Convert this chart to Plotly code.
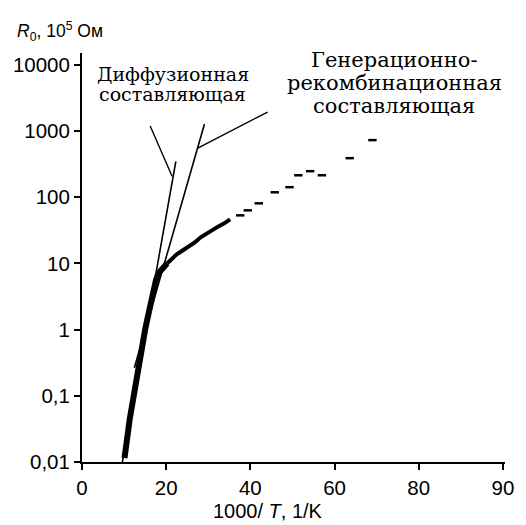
import plotly.graph_objects as go

# ---- data ----
# dense measured band (low temperature side)
band_x = [10.1, 10.3, 10.6, 11.0, 11.3, 11.7, 12.0, 12.4, 12.7, 13.1, 13.6, 14.1,
          14.6, 15.0, 15.5, 16.0, 16.4, 16.9, 17.6, 18.3, 19.2, 20.2]
band_y = [0.0115, 0.016, 0.0216, 0.0305, 0.043, 0.061, 0.087, 0.123, 0.175, 0.248,
          0.35, 0.50, 0.70, 1.0, 1.42, 2.0, 2.85, 4.0, 5.7, 7.3, 8.7, 10.0]
# knee section
knee_x = [20.2, 21.4, 22.5, 23.9, 25.4, 26.8, 28.2, 29.6, 31.0, 32.4, 33.8, 35.2]
knee_y = [10.0, 11.9, 13.7, 15.7, 18.1, 20.8, 24.8, 28.5, 32.7, 36.3, 40.4, 46.4]
# sparse points
sparse_x = [37.6, 39.4, 42.0, 45.8, 49.3, 51.4, 54.2, 57.0, 63.6, 69.0]
sparse_y = [53.3, 63.5, 81, 119, 142, 215, 248, 215, 390, 731]

# fitted components
diff_x = [9.6, 22.3]
diff_y = [0.01, 350]
gr_x = [12.44, 29.1]
gr_y = [0.265, 1276]

# leader lines to the labels
lead1_x = [16.2, 21.4]
lead1_y = [1191, 208]
lead2_x = [27.5, 44.1]
lead2_y = [552, 1941]

x_tickvals = [0, 20, 40, 60, 80, 100]
x_ticktext = ["0", "20", "40", "60", "80", "90"]
y_tickvals = [0.01, 0.1, 1, 10, 100, 1000, 10000]
y_ticktext = ["0,01", "0,1", "1", "10", "100", "1000", "10000"]

label_diff_lines = ["Диффузионная", "составляющая"]
label_gr_lines = ["Генерационно-", "рекомбинационная", "составляющая"]
y_title = "<i>R</i><sub>0</sub>, 10<sup>5</sup> Ом"
x_title = "1000/ <i>T</i>, 1/K"

BLACK = "#000000"
fig = go.Figure()

fig.add_trace(go.Scatter(x=diff_x, y=diff_y, mode="lines",
                         line=dict(color=BLACK, width=1.6), showlegend=False))
fig.add_trace(go.Scatter(x=gr_x, y=gr_y, mode="lines",
                         line=dict(color=BLACK, width=1.6), showlegend=False))
fig.add_trace(go.Scatter(x=lead1_x, y=lead1_y, mode="lines",
                         line=dict(color=BLACK, width=1.4), showlegend=False))
fig.add_trace(go.Scatter(x=lead2_x, y=lead2_y, mode="lines",
                         line=dict(color=BLACK, width=1.4), showlegend=False))
fig.add_trace(go.Scatter(x=band_x, y=band_y, mode="lines",
                         line=dict(color=BLACK, width=6), showlegend=False))
fig.add_trace(go.Scatter(x=knee_x, y=knee_y, mode="lines",
                         line=dict(color=BLACK, width=4), showlegend=False))
fig.add_trace(go.Scatter(x=sparse_x, y=sparse_y, mode="markers",
                         marker=dict(symbol="line-ew", size=6, color=BLACK,
                                     line=dict(color=BLACK, width=2.5)),
                         showlegend=False))

L, R, T, B = 82, 16, 53, 63
PW, PH = 526 - L - R, 525 - T - B


def px(xp):
    return (xp - L) / PW


def py(yp):
    return (525 - B - yp) / PH


sans = "Liberation Sans, Arial, sans-serif"
tick_font = dict(family=sans, size=20.5, color=BLACK)
serif_d = dict(family="DejaVu Serif, Liberation Serif, serif", size=19, color=BLACK)
serif_g = dict(family="DejaVu Serif, Liberation Serif, serif", size=21, color=BLACK)

annotations = [
    dict(text=y_title, xref="paper", yref="paper", x=px(14), y=py(31),
         xanchor="left", yanchor="middle", showarrow=False,
         font=dict(family=sans, size=17.5, color=BLACK)),
    dict(text=x_title, xref="paper", yref="paper", x=px(270), y=py(511),
         xanchor="center", yanchor="middle", showarrow=False,
         font=dict(family=sans, size=20, color=BLACK)),
]
for txt, yc in zip(label_diff_lines, [74, 94]):
    annotations.append(dict(text=txt, xref="paper", yref="paper", x=px(174), y=py(yc),
                            xanchor="center", yanchor="middle", showarrow=False,
                            font=serif_d))
for txt, yc in zip(label_gr_lines, [60, 83, 106]):
    annotations.append(dict(text=txt, xref="paper", yref="paper", x=px(398), y=py(yc),
                            xanchor="center", yanchor="middle", showarrow=False,
                            font=serif_g))

fig.update_layout(
    width=526, height=525,
    margin=dict(l=L, r=R, t=T, b=B),
    paper_bgcolor="white", plot_bgcolor="white",
    xaxis=dict(range=[0, 100.5], tickvals=x_tickvals, ticktext=x_ticktext,
               showgrid=False, zeroline=False, showline=True, linecolor=BLACK,
               linewidth=2, ticks="outside", ticklen=6, tickwidth=1.5,
               tickcolor=BLACK, tickfont=tick_font),
    yaxis=dict(type="log", range=[-2, 4.18], tickvals=y_tickvals,
               ticktext=y_ticktext, showgrid=False, zeroline=False,
               showline=True, linecolor=BLACK, linewidth=2, ticks="outside",
               ticklen=6, tickwidth=1.5, tickcolor=BLACK, tickfont=tick_font),
    annotations=annotations,
)

fig.write_html("out.html")
